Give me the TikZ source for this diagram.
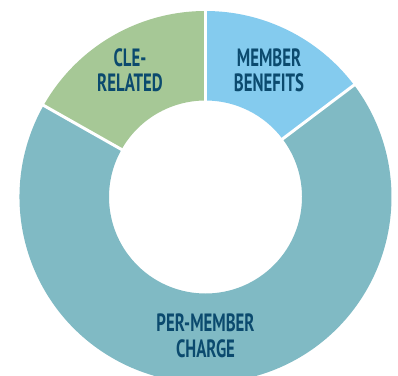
\documentclass[tikz,border=0pt]{standalone}
\usepackage{fontspec}
\setmainfont{PT Sans}
\usepackage{graphicx}
\definecolor{cle}{HTML}{A6C896}
\definecolor{mem}{HTML}{84CBEE}
\definecolor{per}{HTML}{80BAC4}
\definecolor{txt}{HTML}{0B4A6E}
\begin{document}
\begin{tikzpicture}[x=1pt,y=1pt,
  lbl/.style={anchor=base, inner sep=0pt, text=txt, font=\fontsize{25}{25}\selectfont\bfseries},
  sep/.style={white, line width=3pt}]
\useasboundingbox (0,0) rectangle (398,375);
\fill[white] (0,0) rectangle (398,375);
\clip (0,0) rectangle (398,375);
\coordinate (c) at (205.5,178);
\def\Ro{186}\def\Ri{96.5}
\fill[mem] ([shift={(37:\Ro)}]c) arc[start angle=37,end angle=90,radius=\Ro] -- ([shift={(90:\Ri)}]c) arc[start angle=90,end angle=37,radius=\Ri] -- cycle;
\fill[cle] ([shift={(90:\Ro)}]c) arc[start angle=90,end angle=150.5,radius=\Ro] -- ([shift={(150.5:\Ri)}]c) arc[start angle=150.5,end angle=90,radius=\Ri] -- cycle;
\fill[per] ([shift={(150.5:\Ro)}]c) arc[start angle=150.5,end angle=397,radius=\Ro] -- ([shift={(37:\Ri)}]c) arc[start angle=397,end angle=150.5,radius=\Ri] -- cycle;
\coordinate (a1) at ([shift={(90:90)}]c);   \coordinate (b1) at ([shift={(90:192)}]c);
\coordinate (a2) at ([shift={(37:90)}]c);   \coordinate (b2) at ([shift={(37:192)}]c);
\coordinate (a3) at ([shift={(150.5:90)}]c);\coordinate (b3) at ([shift={(150.5:192)}]c);
\draw[sep] (a1) -- (b1);
\draw[sep] (a2) -- (b2);
\draw[sep] (a3) -- (b3);
\node[lbl] (cle1) at (130,308) {\scalebox{0.67}[1]{CLE-}};
\node[lbl] (cle2) at (130,283) {\scalebox{0.67}[1]{RELATED}};
\node[lbl] (mem1) at (269,308) {\scalebox{0.67}[1]{MEMBER}};
\node[lbl] (mem2) at (269,283) {\scalebox{0.67}[1]{BENEFITS}};
\node[lbl] (per1) at (205.5,44) {\scalebox{0.67}[1]{PER-MEMBER}};
\node[lbl] (per2) at (205.5,18) {\scalebox{0.67}[1]{CHARGE}};
\end{tikzpicture}
\end{document}
